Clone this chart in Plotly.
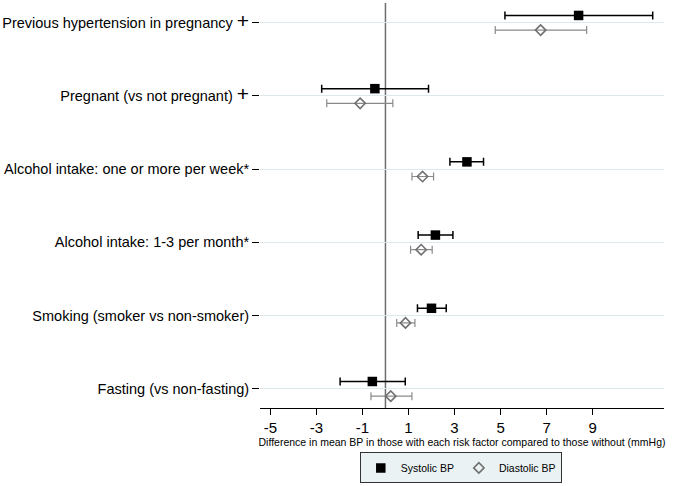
import plotly.graph_objects as go

labels = [
    "Previous hypertension in pregnancy",
    "Pregnant (vs not pregnant)",
    "Alcohol intake: one or more per week*",
    "Alcohol intake: 1-3 per month*",
    "Smoking (smoker vs non-smoker)",
    "Fasting (vs non-fasting)",
]
dagger = [True, True, False, False, False, False]

sys_est = [8.39, -0.46, 3.54, 2.17, 2.00, -0.57]
sys_lo = [5.19, -2.77, 2.80, 1.42, 1.39, -1.97]
sys_hi = [11.61, 1.87, 4.26, 2.93, 2.64, 0.86]

dia_est = [6.74, -1.10, 1.61, 1.55, 0.87, 0.23]
dia_lo = [4.77, -2.55, 1.15, 1.09, 0.49, -0.63]
dia_hi = [8.74, 0.32, 2.09, 2.03, 1.28, 1.15]

x_ticks = [-5, -3, -1, 1, 3, 5, 7, 9]

n = len(labels)
rows = [n - i for i in range(n)]
off = 0.1

ticktext = [
    (lab + ' <span style="font-size:21px">+</span>') if d else lab
    for lab, d in zip(labels, dagger)
]

fig = go.Figure()
fig.add_trace(go.Scatter(
    x=sys_est, y=[r + off for r in rows], mode="markers", name="Systolic BP",
    marker=dict(symbol="square", size=9.5, color="black"),
    error_x=dict(type="data", symmetric=False,
                 array=[h - e for h, e in zip(sys_hi, sys_est)],
                 arrayminus=[e - l for e, l in zip(sys_est, sys_lo)],
                 color="black", thickness=1.5, width=4),
))
fig.add_trace(go.Scatter(
    x=dia_est, y=[r - off for r in rows], mode="markers", name="Diastolic BP",
    marker=dict(symbol="diamond-open", size=8, color="#707070", line=dict(width=1.6)),
    error_x=dict(type="data", symmetric=False,
                 array=[h - e for h, e in zip(dia_hi, dia_est)],
                 arrayminus=[e - l for e, l in zip(dia_est, dia_lo)],
                 color="#8a8a8a", thickness=1.2, width=4),
))

fig.add_shape(type="line", xref="x", yref="paper", x0=0, x1=0, y0=0, y1=1,
              line=dict(color="#6e6e6e", width=1.5), layer="below")

fig.update_layout(
    width=675, height=486,
    margin=dict(l=260, r=11, t=3, b=78, autoexpand=False),
    paper_bgcolor="white", plot_bgcolor="white",
    font=dict(family="Liberation Sans, Arial, sans-serif", color="black"),
    showlegend=True,
    legend=dict(orientation="h", x=0.497, xanchor="center", y=-0.148, yanchor="middle",
                bgcolor="#eaf2f3", bordercolor="#333333", borderwidth=1,
                font=dict(size=10.5), itemsizing="trace", itemwidth=30,
                tracegroupgap=0),
    xaxis=dict(range=[-5.45, 12.1], tickmode="array", tickvals=x_ticks,
               ticktext=[str(v) for v in x_ticks], automargin=False,
               showgrid=False, zeroline=False, showline=True, linecolor="black",
               linewidth=1, ticks="outside", ticklen=6, tickcolor="black",
               tickfont=dict(size=15),
               title=dict(text="Difference in mean BP in those with each risk factor compared to those without (mmHg)",
                          font=dict(size=10.5), standoff=0)),
    yaxis=dict(range=[0.738, 6.27], tickmode="array", tickvals=rows, ticktext=ticktext,
               automargin=False,
               showgrid=True, gridcolor="#dce9ec", gridwidth=1, zeroline=False,
               showline=False, ticks="outside", ticklen=7, tickcolor="black",
               tickfont=dict(size=14.5)),
)

fig.write_html("out.html", config={"displayModeBar": False},
               post_script="document.body.style.margin='0';")
